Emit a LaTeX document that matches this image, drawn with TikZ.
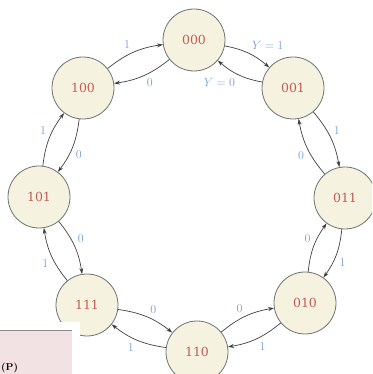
\documentclass[tikz,border=0pt]{standalone}
\usepackage{fontspec}
\newfontfamily\statefont{DejaVu Serif}
\usetikzlibrary{arrows.meta}
\definecolor{cream}{HTML}{F6F2E0}
\definecolor{ring}{HTML}{707070}
\definecolor{statered}{HTML}{C25A55}
\definecolor{lblue}{HTML}{6E9FD6}
\definecolor{boxpink}{HTML}{F2E2E4}
\tikzset{
  state/.style={circle, draw=ring, line width=0.8pt, fill=cream, minimum size=62pt, inner sep=0pt,
    text=statered, font=\statefont\fontsize{12.5}{14}\selectfont},
  tr/.style={-{Stealth[length=6pt,width=4pt]}, draw=black!75, line width=0.7pt, bend left=15},
  lab/.style={text=lblue, font=\fontsize{12}{14}\selectfont, auto, inner sep=3pt}
}
\begin{document}
\begin{tikzpicture}[x=1pt,y=1pt]
\useasboundingbox (0,0) rectangle (372,374);
\clip (0,0) rectangle (372,374);
\node[state] (s000) at (194,334) {000};
\node[state] (s001) at (293,286) {001};
\node[state] (s011) at (345,176) {011};
\node[state] (s010) at (305,71) {010};
\node[state] (s110) at (197,22) {110};
\node[state] (s111) at (87,69) {111};
\node[state] (s101) at (39,177) {101};
\node[state] (s100) at (83,286) {100};
% input 1 (clockwise, outside)
\draw[tr] (s000) to node[lab] {$Y=1$} (s001);
\draw[tr] (s001) to node[lab] {1} (s011);
\draw[tr] (s011) to node[lab] {1} (s010);
\draw[tr] (s010) to node[lab] {1} (s110);
\draw[tr] (s110) to node[lab] {1} (s111);
\draw[tr] (s111) to node[lab] {1} (s101);
\draw[tr] (s101) to node[lab] {1} (s100);
\draw[tr] (s100) to node[lab] {1} (s000);
% input 0 (counter-clockwise, inside)
\draw[tr] (s001) to node[lab] {$Y=0$} (s000);
\draw[tr] (s000) to node[lab] {0} (s100);
\draw[tr] (s100) to node[lab] {0} (s101);
\draw[tr] (s101) to node[lab] {0} (s111);
\draw[tr] (s111) to node[lab] {0} (s110);
\draw[tr] (s110) to node[lab] {0} (s010);
\draw[tr] (s010) to node[lab] {0} (s011);
\draw[tr] (s011) to node[lab] {0} (s001);
% partial box at bottom left
\fill[white] (0,0) rectangle (80,52);
\fill[boxpink] (0,0) rectangle (72,43);
\draw[black!45, line width=0.8pt] (0,44) -- (72,44);
\node[anchor=south west, inner sep=0pt, font=\bfseries\fontsize{10}{12}\selectfont] (tag) at (1,1) {(P)};
\end{tikzpicture}
\end{document}
